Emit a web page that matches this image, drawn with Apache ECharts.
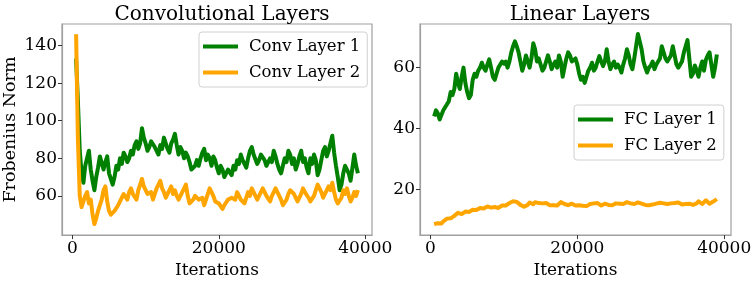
<!DOCTYPE html>
<html><head><meta charset="utf-8">
<script src="https://cdn.jsdelivr.net/npm/echarts@6/dist/echarts.min.js"></script>
<style>html,body{margin:0;padding:0;background:#fff}#c{width:756px;height:284px}</style>
</head><body><div id="c"></div>
<script>
const iterations = [500,750,1000,1250,1500,1750,2000,2250,2500,2750,3000,3250,3500,3750,4000,4250,4500,4750,5000,5250,5500,5750,6000,6250,6500,6750,7000,7250,7500,7750,8000,8250,8500,8750,9000,9250,9500,9750,10000,10250,10500,10750,11000,11250,11500,11750,12000,12250,12500,12750,13000,13250,13500,13750,14000,14250,14500,14750,15000,15250,15500,15750,16000,16250,16500,16750,17000,17250,17500,17750,18000,18250,18500,18750,19000,19250,19500,19750,20000,20250,20500,20750,21000,21250,21500,21750,22000,22250,22500,22750,23000,23250,23500,23750,24000,24250,24500,24750,25000,25250,25500,25750,26000,26250,26500,26750,27000,27250,27500,27750,28000,28250,28500,28750,29000,29250,29500,29750,30000,30250,30500,30750,31000,31250,31500,31750,32000,32250,32500,32750,33000,33250,33500,33750,34000,34250,34500,34750,35000,35250,35500,35750,36000,36250,36500,36750,37000,37250,37500,37750,38000,38250,38500,38750,39000];
const convLayer1 = [133,110,84,72,67,76,80,84,74,68,63,70,75,81,80,74,78,81,72,69,66,70,76,74,80,77,83,81,78,80,84,82,87,89,85,88,96,91,88,84,86,89,90,86,84,82,87,85,91,88,85,83,88,90,93,87,82,86,84,80,83,81,78,74,73,76,79,76,80,83,85,79,82,80,76,81,79,75,72,76,74,70,70,74,73,71,76,74,79,77,82,79,77,75,80,84,86,82,81,77,79,82,83,79,76,78,80,78,84,81,77,74,72,76,80,78,84,82,77,80,74,77,81,84,78,80,75,72,80,77,82,79,71,74,79,84,86,81,84,88,92,83,76,70,63,66,72,76,77,72,68,75,82,76,72];
const convLayer2 = [146,90,60,54,55,60,62,56,58,50,45,48,52,55,58,63,65,57,52,50,50,52,53,55,57,59,61,60,58,62,64,61,60,58,63,66,69,65,63,61,60,62,58,61,64,66,68,64,62,59,60,63,65,61,63,60,58,60,62,64,66,60,56,55,58,60,59,58,57,59,55,58,61,64,65,60,57,58,56,55,53,55,56,58,57,59,60,58,62,60,58,57,56,59,62,60,64,62,61,58,59,62,64,62,60,59,57,60,62,64,65,60,58,55,54,58,61,63,64,61,59,57,58,61,64,62,61,59,57,58,60,63,66,64,62,59,60,63,65,63,67,62,58,56,55,59,63,61,64,60,57,59,62,60,63];
const fcLayer1 = [44,46,45,43,43,46,47,48,49,52,51,53,58,55,53,57,60,55,52,50,51,56,58,57,59,60,61.6,60,59,61,62.7,60,57,56,58,60,60,62,61.3,62,60,62,64.9,67,68.6,67,65,62,59,61,64,62,60,63,68,66,62,63,61,59,60,62,64,62,59.5,61,62,60,64,62,57,60,63,65,64,62,62.5,63,61,58,56,57,55,57,59,60,61.6,59,60,62,63.8,62,60.5,62,66,62,59.5,61,62,60,61,60,58.4,61,63,66,64,61,59.5,63,67,71,70.5,66,62,60,58.4,60,60.7,62,59.5,61,60.5,63,67,65,63,62,61.6,64,67,64,61,60,60.5,62,64.9,67,69,63,57,58,60.7,59,57,60,62,59,62.5,64,65,61,57,60,64.3];
const fcLayer2 = [8.7,9.3,9,8.6,8.9,9.6,10.2,10.5,10.8,10.6,11,11.4,11.5,12.4,12.6,12.0,12.4,12.8,12.9,12.7,13.1,13.4,13.5,13.3,13.8,14.0,14.2,13.8,14.1,14.5,14.4,14.1,13.9,14.3,14.2,14.0,14.6,14.8,14.3,14.8,15.3,15.6,15.8,16.2,16.8,16.0,15.5,15.0,14.6,14.4,14.2,15.0,15.8,15.4,15.2,15.9,16.2,15.6,15.1,15.5,15.8,15.6,15.3,14.9,14.6,14.9,15.1,14.8,15.4,15.9,16.2,15.3,14.7,14.9,15.1,15.4,15.2,14.8,14.6,14.9,15.0,14.7,14.4,14.6,14.8,15.3,15.1,15.5,16.0,15.6,15.2,14.8,15.0,15.4,15.6,15.0,14.5,14.9,15.3,15.5,15.7,15.4,15.1,15.3,15.6,15.9,16.0,15.5,15.2,15.3,15.5,15.8,16.1,15.4,14.8,15.0,15.2,14.9,14.7,15.1,15.6,15.4,15.3,15.7,16.0,15.5,15.1,15.3,15.7,15.5,15.2,15.6,16.1,15.8,15.4,15.1,15.0,15.3,15.6,15.4,15.2,15.0,14.8,15.5,16.2,15.7,15.3,15.9,16.5,15.9,15.4,15.7,16.1,16.4,16.9];
const xTicks = [0,20000,40000];
const convYTicks = [60,80,100,120,140];
const fcYTicks = [20,40,60];
const titles = ['Convolutional Layers','Linear Layers'];

const FONT = 'DejaVu Serif';
const GREEN = '#008000', ORANGE = '#FFA500';
const pairs = (ys) => ys.map((v,i)=>[iterations[i], v]).filter(p=>p[0]!==undefined);

function xAxis(idx, showName){
  return {type:'value', gridIndex:idx, min:-1425, max:40925,
    name: showName, nameLocation:'middle', nameGap:21,
    nameTextStyle:{fontFamily:FONT,fontSize:17,color:'#000'},
    splitLine:{show:false},
    axisLine:{show:true,onZero:false,lineStyle:{color:'#a0a0a0',width:1.2}},
    axisTick:{show:true,length:4,customValues:xTicks,lineStyle:{color:'#333'}},
    axisLabel:{customValues:xTicks,fontFamily:FONT,fontSize:17,color:'#000',margin:5,
      formatter:v=>String(v)}};
}
function yAxis(idx,min,max,ticks,name){
  return {type:'value', gridIndex:idx, min:min, max:max,
    name:name, nameLocation:'middle', nameGap:43,
    nameTextStyle:{fontFamily:FONT,fontSize:17.5,color:'#000'},
    splitLine:{show:false},
    axisLine:{show:true,onZero:false,lineStyle:{color:'#a0a0a0',width:1.2}},
    axisTick:{show:true,length:4,customValues:ticks,lineStyle:{color:'#333'}},
    axisLabel:{customValues:ticks,fontFamily:FONT,fontSize:17,color:'#000',margin:5}};
}
function line(name,xi,data,color){
  return {name:name,type:'line',xAxisIndex:xi,yAxisIndex:xi,data:data,showSymbol:false,
    symbol:'none',lineStyle:{color:color,width:4,join:'round'},itemStyle:{color:color},animation:false,z:3};
}
const legendCommon = {orient:'vertical',icon:'rect',itemWidth:35,itemHeight:4,itemGap:9,
  backgroundColor:'#fff',borderColor:'#d0d0d0',borderWidth:1,borderRadius:3,
  textStyle:{fontFamily:FONT,fontSize:16.5,color:'#000',padding:[0,0,0,6]}};

const chart = echarts.init(document.getElementById('c'),null,{renderer:'canvas'});
chart.setOption({
  animation:false,
  title:[
    {text:titles[0],left:217,top:0,textAlign:'center',textStyle:{fontFamily:FONT,fontSize:20,fontWeight:'normal',color:'#000'}},
    {text:titles[1],left:575,top:0,textAlign:'center',textStyle:{fontFamily:FONT,fontSize:20,fontWeight:'normal',color:'#000'}}
  ],
  grid:[
    {left:62,top:24,width:310,height:215,show:true,borderColor:'#a0a0a0',borderWidth:1.2},
    {left:420,top:24,width:311,height:214,show:true,borderColor:'#a0a0a0',borderWidth:1.2}
  ],
  legend:[
    Object.assign({},legendCommon,{data:['Conv Layer 1','Conv Layer 2'],left:199,top:32,padding:[6,7,6,4]}),
    Object.assign({},legendCommon,{data:['FC Layer 1','FC Layer 2'],left:574,top:105,padding:[6,7,6,4]})
  ],
  xAxis:[xAxis(0,'Iterations'),xAxis(1,'Iterations')],
  yAxis:[yAxis(0,39.1,151.5,convYTicks,'Frobenius Norm'),yAxis(1,5.1,74.3,fcYTicks,'')],
  series:[
    line('Conv Layer 1',0,pairs(convLayer1),GREEN),
    line('Conv Layer 2',0,pairs(convLayer2),ORANGE),
    line('FC Layer 1',1,pairs(fcLayer1),GREEN),
    line('FC Layer 2',1,pairs(fcLayer2),ORANGE)
  ]
});
</script></body></html>
